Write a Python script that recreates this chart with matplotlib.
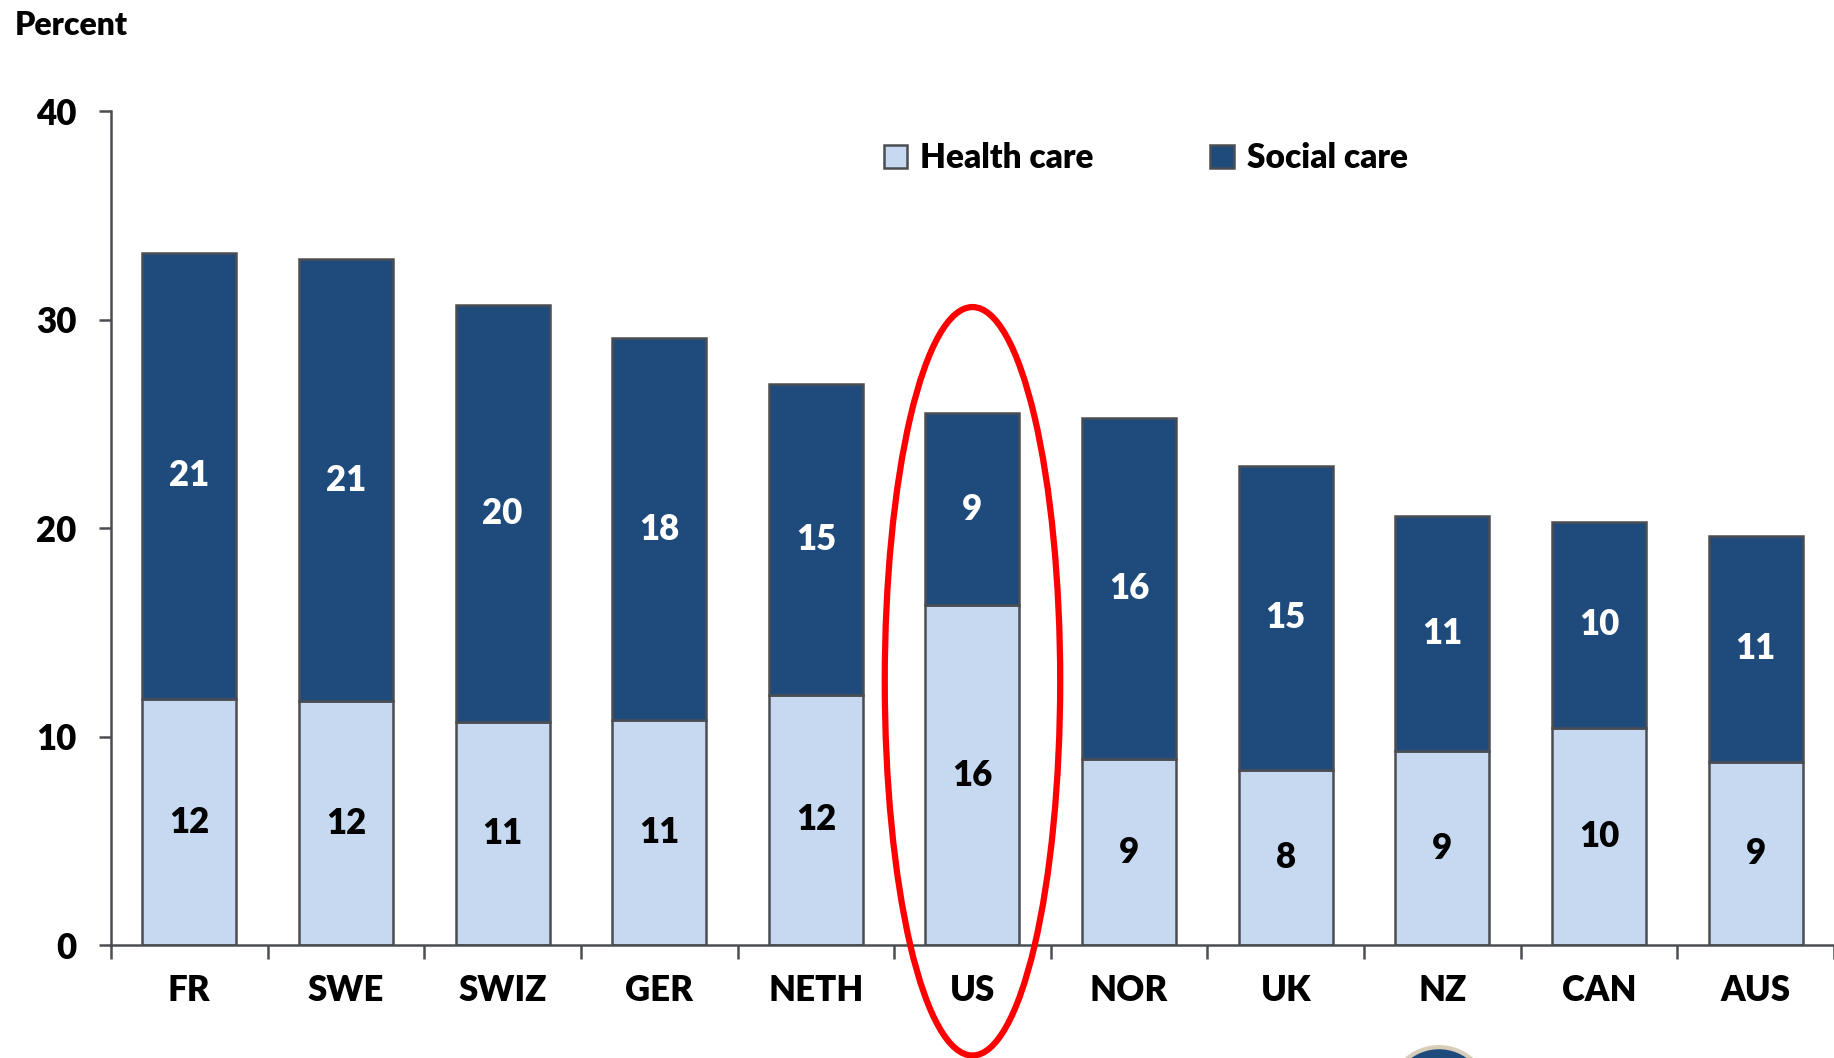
import matplotlib
matplotlib.use("Agg")
import matplotlib.pyplot as plt
import numpy as np
from matplotlib.patches import Ellipse

# Spending shares, percent
countries = ["FR", "SWE", "SWIZ", "GER", "NETH", "US", "NOR", "UK", "NZ", "CAN", "AUS"]
health_care = [11.8, 11.7, 10.7, 10.8, 12.0, 16.3, 8.9, 8.4, 9.3, 10.4, 8.8]
social_care = [21.4, 21.2, 20.0, 18.3, 14.9, 9.2, 16.4, 14.6, 11.3, 9.9, 10.8]
y_ticks = [0, 10, 20, 30, 40]
highlight = "US"

LIGHT = "#C6D9F0"
DARK = "#1F4A7C"
EDGE = "#4A4D52"

plt.rcParams["font.family"] = ["Lato", "DejaVu Sans"]
plt.rcParams["font.weight"] = "heavy"

fig = plt.figure(figsize=(18.34, 10.58), dpi=100)
ax = fig.add_axes([0.0605, 0.1068, 0.9395, 0.7882])

x = np.arange(len(countries))
width = 0.6

ax.bar(x, health_care, width=width, color=LIGHT, edgecolor=EDGE,
       linewidth=1.8, label="Health care")
ax.bar(x, social_care, width=width, bottom=health_care, color=DARK,
       edgecolor=EDGE, linewidth=1.8, label="Social care")

for xi, h, s in zip(x, health_care, social_care):
    ax.text(xi, h / 2, f"{h:.0f}", ha="center", va="center",
            fontsize=25, fontweight="heavy", color="black")
    ax.text(xi, h + s / 2, f"{s:.0f}", ha="center", va="center",
            fontsize=25, fontweight="heavy", color="white")

ax.set_xlim(-0.5, len(countries) - 0.5)
ax.set_ylim(0, 40)
ax.set_yticks(y_ticks)
ax.set_yticklabels([str(t) for t in y_ticks], fontsize=25, fontweight="heavy")
ax.set_xticks(x)
ax.set_xticklabels(countries, fontsize=25, fontweight="heavy")
ax.tick_params(axis="x", which="major", length=0, pad=21)
ax.set_xticks(np.arange(len(countries) + 1) - 0.5, minor=True)
ax.tick_params(axis="x", which="minor", length=10, width=1.8, color=EDGE,
               direction="out")
ax.tick_params(axis="y", length=9, width=1.8, color=EDGE, pad=16)

for side in ("top", "right"):
    ax.spines[side].set_visible(False)
for side in ("left", "bottom"):
    ax.spines[side].set_color(EDGE)
    ax.spines[side].set_linewidth(1.8)

# ring around the highlighted country
idx = countries.index(highlight)
ax.add_patch(Ellipse((idx, 12.65), 1.12, 35.9, fill=False, edgecolor="#FF0000",
                     linewidth=4.5, clip_on=False, zorder=5))

ax.legend(loc="upper left", bbox_to_anchor=(0.431, 0.999), ncol=2, frameon=False,
          handlelength=0.7, handleheight=0.7, columnspacing=3.5,
          handletextpad=0.4, prop={"weight": "heavy", "size": 24})

fig.text(0.008, 0.99, "Percent", fontsize=23, fontweight="heavy",
         ha="left", va="top")

# partial logo at the lower edge
fig.patches.append(Ellipse((0.7846, -0.037), 0.0545, 0.0945,
                           transform=fig.transFigure, facecolor="#1E4B7E",
                           edgecolor="#D8CDB8", linewidth=3, figure=fig))

fig.savefig("out.png", dpi=100)
